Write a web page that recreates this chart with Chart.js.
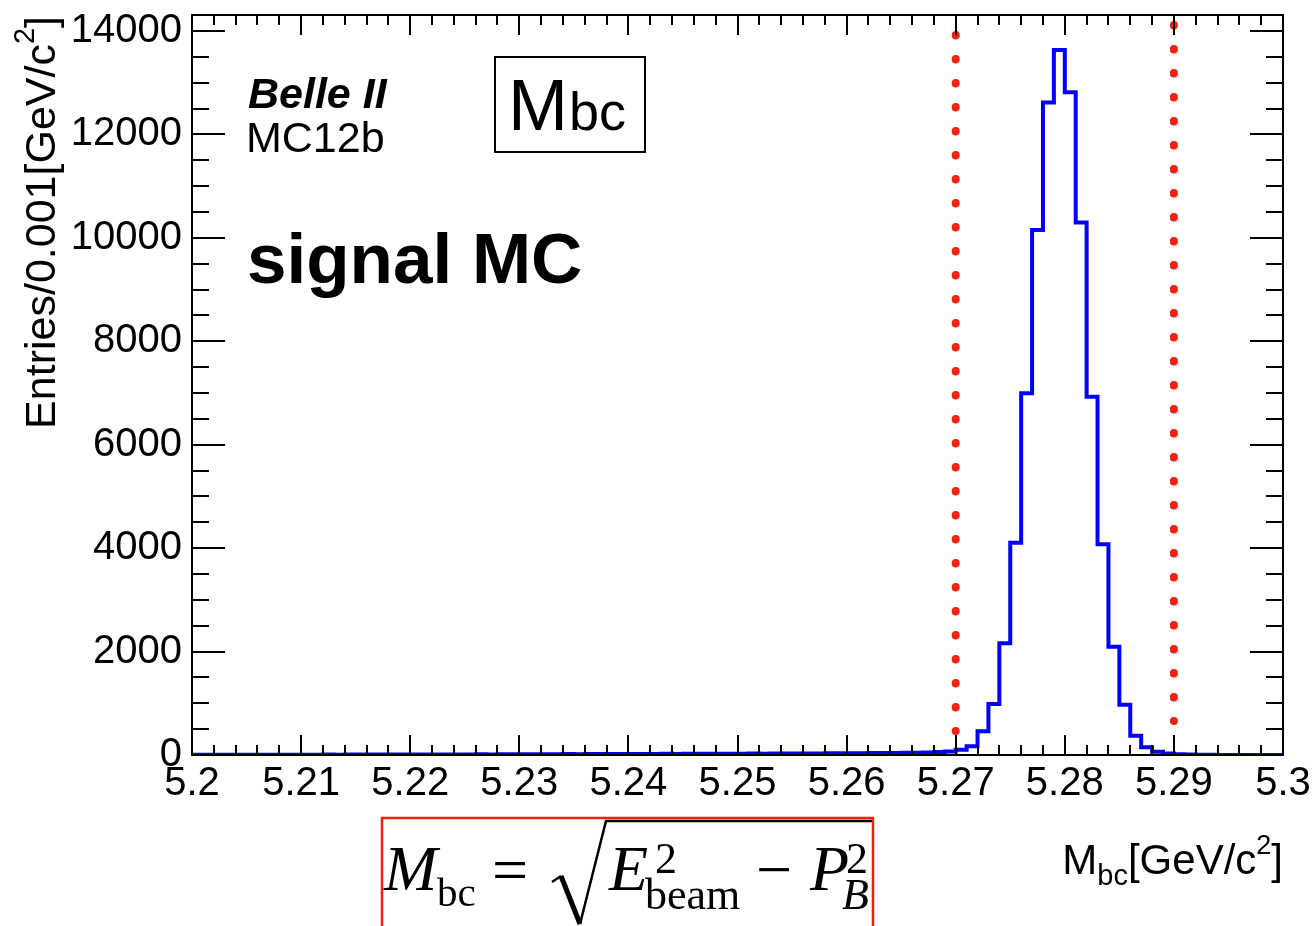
<!DOCTYPE html>
<html>
<head>
<meta charset="utf-8">
<script src="https://cdn.jsdelivr.net/npm/chart.js@4.4.0/dist/chart.umd.min.js"></script>
<style>
  html, body { margin: 0; padding: 0; background: #fff; }
  #wrap { width: 1316px; height: 926px; position: relative; }
</style>
</head>
<body>
<div id="wrap"><canvas id="histChart"></canvas></div>
<script>
const histColor = '#0000ff'
const cutColor = '#ee2211'
const sansFont = '"Liberation Sans", Arial, Helvetica, sans-serif'
const serifFont = '"Liberation Serif", "Times New Roman", serif'

// M_bc histogram, 100 bins of 0.001 GeV/c^2 starting at 5.200
const binStart = 5.2
const binWidth = 0.001
const entries520 = [4, 5, 4, 6, 5, 5, 6, 5, 7, 6]
const entries521 = [7, 6, 8, 7, 8, 9, 8, 9, 10, 9]
const entries522 = [10, 11, 10, 12, 11, 12, 13, 12, 14, 13]
const entries523 = [14, 15, 16, 15, 17, 16, 18, 17, 19, 18]
const entries524 = [20, 19, 21, 22, 21, 23, 22, 24, 25, 24]
const entries525 = [26, 27, 26, 28, 29, 30, 29, 31, 32, 33]
const entries526 = [34, 36, 38, 37, 40, 42, 45, 50, 58, 70]
const entries527 = [100, 170, 460, 985, 2160, 4105, 6995, 10150, 12620, 13635]
const entries528 = [12815, 10295, 6930, 4075, 2095, 970, 370, 150, 62, 30]
const entries529 = [14, 8, 5, 3, 2, 1, 1, 0, 0, 0]
const entries = [].concat(entries520, entries521, entries522, entries523, entries524,
  entries525, entries526, entries527, entries528, entries529)

// signal window cuts (dotted red lines)
const cutLow = 5.27
const cutHigh = 5.29
const cutLowSpan = [13924, 464]
const cutHighSpan = [14117, 657]

const xMin = 5.2
const xMax = 5.3
const yMax = 14310
const xTickValues = [5.2, 5.21, 5.22, 5.23, 5.24, 5.25, 5.26, 5.27, 5.28, 5.29, 5.3]
const yTickValues = [0, 2000, 4000, 6000, 8000, 10000, 12000, 14000]

var histPoints = entries.map(function(v, i) {
  return {x: binStart + i * binWidth, y: v}
})
histPoints.push({x: xMax, y: entries[entries.length - 1]})

function drawText(ctx, str, x, y, font, color) {
  ctx.font = font
  ctx.fillStyle = color || '#000'
  ctx.textAlign = 'left'
  ctx.textBaseline = 'alphabetic'
  ctx.fillText(str, x, y)
  return ctx.measureText(str).width
}

var rootFrame = {
  id: 'rootFrame',
  afterDatasetsDraw: function(chart) {
    var ctx = chart.ctx
    var a = chart.chartArea
    var xs = chart.scales.x
    var ys = chart.scales.y
    ctx.save()
    ctx.strokeStyle = '#000'
    ctx.lineWidth = 2
    ctx.strokeRect(a.left, a.top, a.right - a.left, a.bottom - a.top)
    ctx.beginPath()
    for (var i = 0; i <= 50; i++) {
      var px = Math.round(xs.getPixelForValue(xMin + i * 0.002))
      var len = i % 5 === 0 ? 20 : 10
      ctx.moveTo(px, a.bottom); ctx.lineTo(px, a.bottom - len)
      ctx.moveTo(px, a.top); ctx.lineTo(px, a.top + len)
    }
    for (var v = 0; v <= 14000; v += 500) {
      var py = Math.round(ys.getPixelForValue(v))
      var l = v % 2000 === 0 ? 33 : 17
      ctx.moveTo(a.left, py); ctx.lineTo(a.left + l, py)
      ctx.moveTo(a.right, py); ctx.lineTo(a.right - l, py)
    }
    ctx.stroke()
    ctx.restore()
  },
  afterDraw: function(chart) {
    var ctx = chart.ctx
    ctx.save()

    // labels inside the frame
    drawText(ctx, 'Belle II', 248, 108, 'italic bold 43px ' + sansFont)
    drawText(ctx, 'MC12b', 246, 152, '43px ' + sansFont)
    drawText(ctx, 'signal MC', 247, 283, 'bold 71px ' + sansFont)

    ctx.strokeStyle = '#000'
    ctx.lineWidth = 2
    ctx.strokeRect(495, 57, 150, 95)
    var w = drawText(ctx, 'M', 508, 130, '72px ' + sansFont)
    drawText(ctx, 'bc', 508 + w + 1, 130, '54px ' + sansFont)

    // x axis title
    var parts = [
      ['M', '42px ', 0], ['bc', '29px ', 11], ['[GeV/c', '42px ', 0], ['2', '27px ', -20], [']', '42px ', 0]
    ]
    var total = 0
    parts.forEach(function(p) { ctx.font = p[1] + sansFont; total += ctx.measureText(p[0]).width })
    var cx = 1283 - total
    parts.forEach(function(p) { cx += drawText(ctx, p[0], cx, 874 + p[2], p[1] + sansFont) })

    // y axis title, rotated
    var yparts = [
      ['Entries/0.001[GeV/c', '43px ', 0], ['2', '29px ', -21], [']', '43px ', 0]
    ]
    var ytotal = 0
    yparts.forEach(function(p) { ctx.font = p[1] + sansFont; ytotal += ctx.measureText(p[0]).width })
    ctx.save()
    ctx.translate(55, 16 + ytotal)
    ctx.rotate(-Math.PI / 2)
    var cy = 0
    yparts.forEach(function(p) { cy += drawText(ctx, p[0], cy, p[2], p[1] + sansFont) })
    ctx.restore()

    // formula box
    ctx.strokeStyle = cutColor
    ctx.lineWidth = 2.5
    ctx.strokeRect(382, 818, 491, 130)
    drawText(ctx, 'M', 384, 890, 'italic 64px ' + serifFont)
    drawText(ctx, 'bc', 437, 906, '41px ' + serifFont)
    drawText(ctx, '=', 492, 891, '64px ' + serifFont)
    ctx.strokeStyle = '#000'
    ctx.lineJoin = 'miter'
    ctx.beginPath()
    ctx.moveTo(552, 882); ctx.lineTo(561, 876)
    ctx.lineWidth = 2.5
    ctx.stroke()
    ctx.beginPath()
    ctx.moveTo(561, 876); ctx.lineTo(580, 924)
    ctx.lineWidth = 5
    ctx.stroke()
    ctx.beginPath()
    ctx.moveTo(580, 924); ctx.lineTo(606, 821); ctx.lineTo(872, 821)
    ctx.lineWidth = 2.5
    ctx.stroke()
    drawText(ctx, 'E', 609, 890, 'italic 64px ' + serifFont)
    drawText(ctx, '2', 655, 873, '44px ' + serifFont)
    drawText(ctx, 'beam', 645, 909, '44px ' + serifFont)
    drawText(ctx, '\u2212', 756, 891, '64px ' + serifFont)
    drawText(ctx, 'P', 810, 890, 'italic 64px ' + serifFont)
    drawText(ctx, '2', 846, 873, '44px ' + serifFont)
    drawText(ctx, 'B', 842, 909, 'italic 44px ' + serifFont)

    ctx.restore()
  }
}

var ctx = document.getElementById('histChart')
var histChart = new Chart(ctx, {
  type: 'line',
  data: {
    datasets: [
      {
        label: 'signal MC',
        data: histPoints,
        stepped: true,
        borderColor: histColor,
        borderWidth: 4,
        pointRadius: 0,
        fill: false,
      },
      {
        label: 'cut low',
        data: [{x: cutLow, y: cutLowSpan[0]}, {x: cutLow, y: cutLowSpan[1]}],
        borderColor: cutColor,
        borderWidth: 8,
        borderDash: [0.5, 23.5],
        borderCapStyle: 'round',
        pointRadius: 0,
        fill: false,
      },
      {
        label: 'cut high',
        data: [{x: cutHigh, y: cutHighSpan[0]}, {x: cutHigh, y: cutHighSpan[1]}],
        borderColor: cutColor,
        borderWidth: 8,
        borderDash: [0.5, 23.5],
        borderCapStyle: 'round',
        pointRadius: 0,
        fill: false,
      }
    ]
  },
  options: {
    responsive: true,
    maintainAspectRatio: false,
    animation: false,
    layout: { padding: { top: 15, right: 33, left: 0, bottom: 0 } },
    plugins: { legend: { display: false }, tooltip: { enabled: false } },
    scales: {
      x: {
        type: 'linear',
        min: xMin,
        max: xMax,
        grid: { display: false },
        border: { display: false },
        ticks: {
          autoSkip: false,
          maxRotation: 0,
          padding: -3,
          color: '#000',
          font: { family: sansFont, size: 40 },
          callback: function(v) { return String(+v.toFixed(2)) }
        },
        afterBuildTicks: function(s) {
          s.ticks = xTickValues.map(function(v) { return {value: v} })
        },
        afterFit: function(s) {
          s.height = 171
          s.paddingLeft = 0
          s.paddingRight = 0
        }
      },
      y: {
        min: 0,
        max: yMax,
        grid: { display: false },
        border: { display: false },
        ticks: {
          padding: 2,
          color: '#000',
          font: { family: sansFont, size: 40 },
          callback: function(v) { return String(v) }
        },
        afterBuildTicks: function(s) {
          s.ticks = yTickValues.map(function(v) { return {value: v} })
        },
        afterFit: function(s) {
          s.width = 192
          s.paddingTop = 0
          s.paddingBottom = 0
        }
      }
    }
  },
  plugins: [rootFrame]
})
</script>
</body>
</html>
